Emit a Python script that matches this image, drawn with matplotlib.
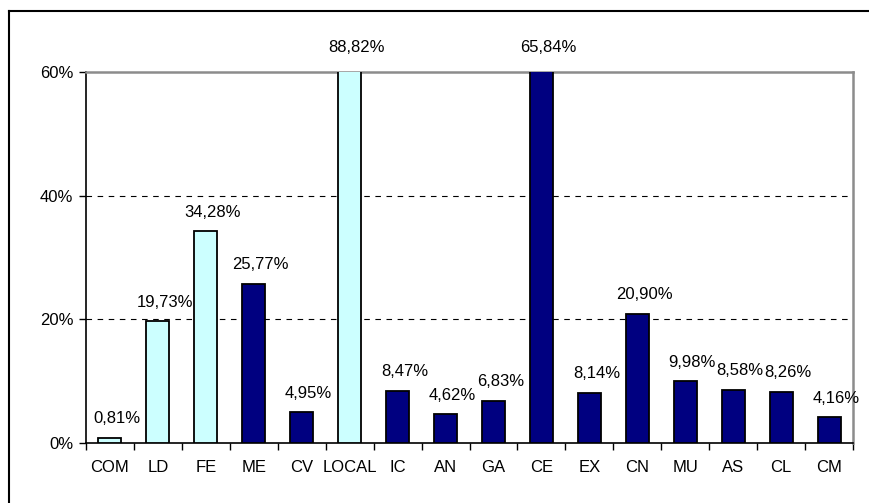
import numpy as np
import matplotlib
matplotlib.use("Agg")
import matplotlib.pyplot as plt
from matplotlib.lines import Line2D

categories = ["COM", "LD", "FE", "ME", "CV", "LOCAL", "IC", "AN", "GA", "CE",
              "EX", "CN", "MU", "AS", "CL", "CM"]
values = [0.81, 19.73, 34.28, 25.77, 4.95, 88.82, 8.47, 4.62, 6.83, 65.84,
          8.14, 20.90, 9.98, 8.58, 8.26, 4.16]
light_group = ["COM", "LD", "FE", "LOCAL"]
y_ticks = [0, 20, 40, 60]

LIGHT = "#CCFFFF"
DARK = "#000080"
YMAX = 60

plt.rcParams["font.family"] = ["Liberation Sans", "DejaVu Sans"]
plt.rcParams["font.size"] = 12

fig = plt.figure(figsize=(8.69, 5.03), dpi=100)
ax = fig.add_axes([86 / 869, 1 - 443 / 503, (853 - 86) / 869, (443 - 72) / 503])

x = np.arange(len(categories))
colors = [LIGHT if c in light_group else DARK for c in categories]
ax.bar(x, values, width=0.48, color=colors, edgecolor="black", linewidth=1.3,
       zorder=3)

for xi, v in zip(x, values):
    label = f"{v:.2f}".replace(".", ",") + "%"
    clipped = v > YMAX
    ax.annotate(label, xy=(xi, min(v, YMAX)), xytext=(7, 25 if clipped else 19),
                textcoords="offset pixels", ha="center", va="center",
                annotation_clip=False, zorder=4)

ax.set_xlim(-0.5, len(categories) - 0.5)
ax.set_ylim(0, YMAX)

ax.set_yticks(y_ticks)
ax.set_yticklabels([f"{t}%" for t in y_ticks])
ax.set_xticks(x)
ax.set_xticklabels(categories)
ax.set_xticks(np.arange(len(categories) + 1) - 0.5, minor=True)
ax.tick_params(axis="x", which="major", length=0, pad=12)
ax.tick_params(axis="x", which="minor", length=5, width=1, direction="out")
ax.tick_params(axis="y", length=5, width=1, direction="out", pad=4)

for g in [20, 40]:
    ax.axhline(g, color="black", linewidth=0.8, linestyle=(0, (5, 5)), zorder=1)

ax.spines["left"].set_color("black")
ax.spines["bottom"].set_color("black")
ax.spines["left"].set_linewidth(1.2)
ax.spines["bottom"].set_linewidth(1.2)
for s in ["top", "right"]:
    ax.spines[s].set_color("#8c8c8c")
    ax.spines[s].set_linewidth(1.8)

# outer frame (open to the right and bottom)
fx = 8.5 / 869
fy = 1 - 11 / 503
fig.add_artist(Line2D([fx, fx], [0, fy], transform=fig.transFigure,
                      color="black", linewidth=1.5))
fig.add_artist(Line2D([fx, 1], [fy, fy], transform=fig.transFigure,
                      color="black", linewidth=1.5))

fig.savefig("out.png", dpi=100)
